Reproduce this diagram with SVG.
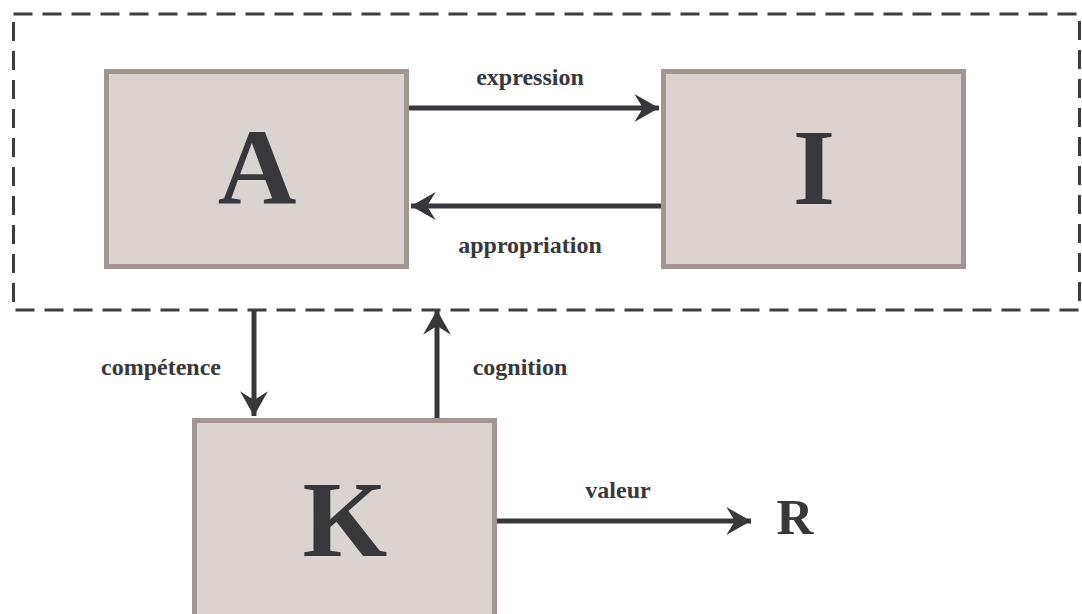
<svg xmlns="http://www.w3.org/2000/svg" width="1082" height="614" viewBox="0 0 1082 614">
<defs>
<style>
.box{fill:#dad3d0;stroke:#a39592;stroke-width:5}
.big{font-family:"Liberation Serif","Times New Roman",serif;font-weight:bold;fill:#38373c;text-anchor:middle}
.lbl{font-family:"Liberation Serif","Times New Roman",serif;font-weight:bold;font-size:24px;fill:#38373c;text-anchor:middle}
.edge{stroke:#38373c;stroke-width:5;fill:none}
</style>
<marker id="ah" markerUnits="userSpaceOnUse" markerWidth="30" markerHeight="30" viewBox="-24 -14 26 28" refX="0" refY="0" orient="auto">
<path d="M0,0 L-23,-13 L-15,0 L-23,13 Z" fill="#38373c"/>
</marker>
</defs>
<rect x="0" y="0" width="1082" height="614" fill="#ffffff"/>
<rect id="frame" x="13.5" y="14" width="1066" height="296" fill="none" stroke="#3d3d40" stroke-width="3" stroke-dasharray="19 10"/>
<g id="connectors">
<line class="edge" x1="409" y1="108" x2="659" y2="108" marker-end="url(#ah)"/>
<line class="edge" x1="661" y1="206" x2="411" y2="206" marker-end="url(#ah)"/>
<line class="edge" x1="254" y1="310" x2="254" y2="416" marker-end="url(#ah)"/>
<line class="edge" x1="437" y1="419" x2="437" y2="310" marker-end="url(#ah)"/>
<line class="edge" x1="497" y1="521" x2="751" y2="521" marker-end="url(#ah)"/>
<text class="lbl" x="530" y="85">expression</text>
<text class="lbl" x="530" y="253">appropriation</text>
<text class="lbl" x="161" y="375">compétence</text>
<text class="lbl" x="520" y="375">cognition</text>
<text class="lbl" x="618" y="498">valeur</text>
</g>
<g id="node-A">
<rect class="box" x="106.5" y="71.5" width="300" height="195"/>
<text class="big" x="257" y="204" font-size="109">A</text>
</g>
<g id="node-I">
<rect class="box" x="663.5" y="71.5" width="300" height="195"/>
<text class="big" x="814" y="204" font-size="109">I</text>
</g>
<g id="node-K">
<rect class="box" x="194.5" y="420.5" width="300" height="220"/>
<text class="big" x="345" y="556" font-size="109">K</text>
</g>
<g id="node-R">
<text class="big" x="795" y="534" font-size="51">R</text>
</g>
</svg>
